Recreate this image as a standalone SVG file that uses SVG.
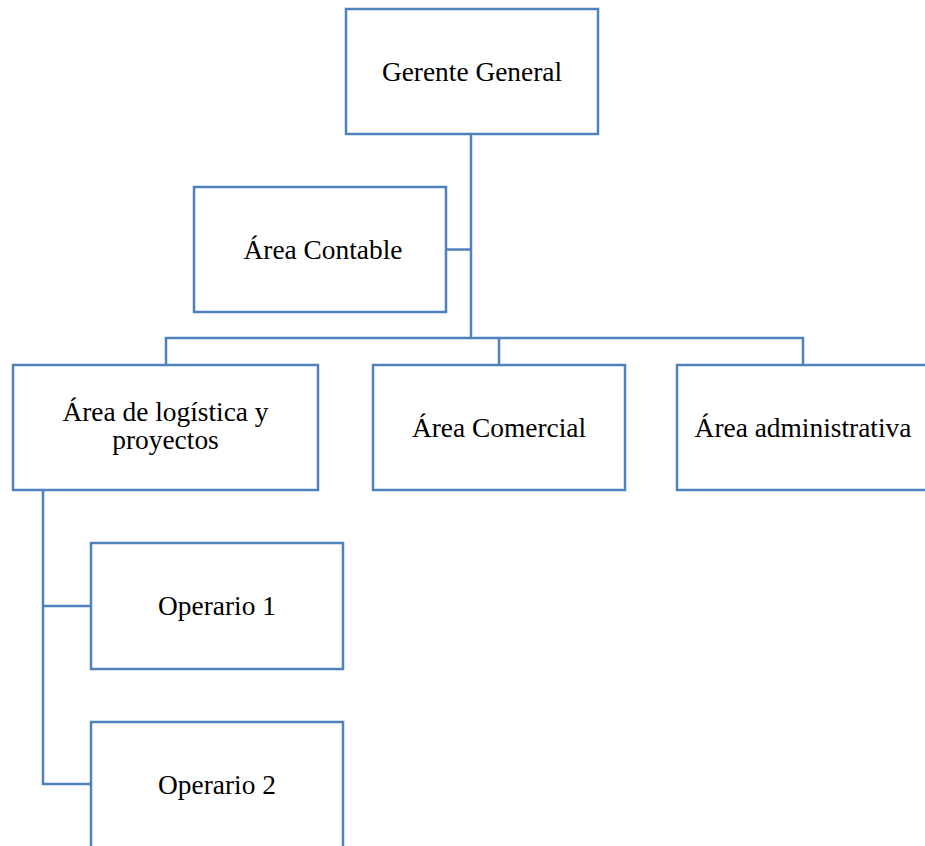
<svg xmlns="http://www.w3.org/2000/svg" width="925" height="846" viewBox="0 0 925 846">
<style>
.box{fill:#ffffff;stroke:#4F81BD;stroke-width:2.5}
.con{fill:none;stroke:#4F81BD;stroke-width:2.5}
text{font-family:"Liberation Serif","Times New Roman",serif;font-size:27.4px;fill:#000;text-anchor:middle}
</style>
<rect width="925" height="846" fill="#ffffff"/>
<g id="connectors">
<path class="con" d="M471 134V338"/>
<path class="con" d="M446 249.5H471"/>
<path class="con" d="M166 365V338H803V365"/>
<path class="con" d="M499 338V365"/>
<path class="con" d="M43 489V784H91"/>
<path class="con" d="M43 606H91"/>
</g>
<g id="gerente"><rect class="box" x="346" y="9" width="252" height="125"/><text x="472" y="80.5">Gerente General</text></g>
<g id="contable"><rect class="box" x="194" y="187" width="252" height="125"/><text x="323" y="258.5">Área Contable</text></g>
<g id="logistica"><rect class="box" x="13" y="365" width="305" height="125"/><text x="165.5" y="421">Área de logística y</text><text x="165.5" y="449">proyectos</text></g>
<g id="comercial"><rect class="box" x="373" y="365" width="252" height="125"/><text x="499" y="436.5">Área Comercial</text></g>
<g id="administrativa"><rect class="box" x="677" y="365" width="252" height="125"/><text x="803" y="436.5">Área administrativa</text></g>
<g id="operario1"><rect class="box" x="91" y="543" width="252" height="126"/><text x="217" y="615">Operario 1</text></g>
<g id="operario2"><rect class="box" x="91" y="722" width="252" height="130"/><text x="217" y="793.5">Operario 2</text></g>
</svg>
